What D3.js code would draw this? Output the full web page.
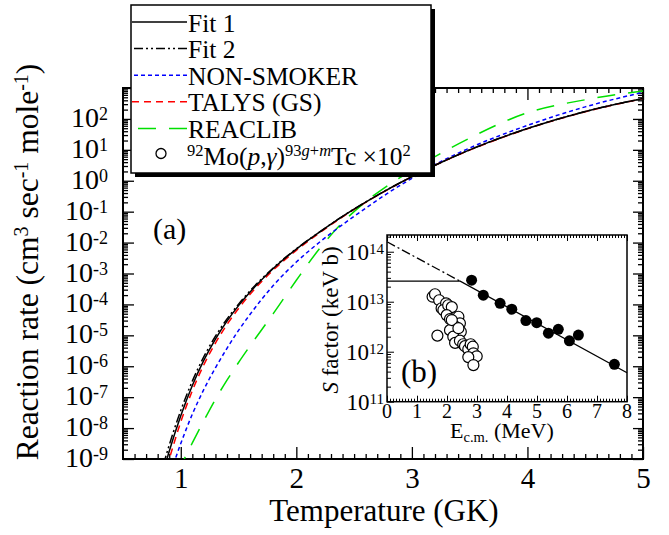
<!DOCTYPE html>
<html>
<head>
<meta charset="utf-8">
<script src="https://cdn.jsdelivr.net/npm/d3@7"></script>
<style>
  body { margin: 0; background: #fff; }
  text { font-family: "Liberation Serif", "Times New Roman", serif; fill: #000; }
</style>
</head>
<body>
<div id="chart"></div>
<script>
// ---- data ----
// main panel: temperature (GK) and log10 of the reaction rate
const tempGK = [0.85, 0.9, 1.0, 1.1, 1.2, 1.3, 1.4, 1.5, 1.6, 1.8, 2.0, 2.2, 2.4, 2.6, 2.8, 3.0, 3.2, 3.5, 4.0, 4.5, 5.0]
const fit1Log = [-9.4, -8.75, -7.6, -6.62, -5.8, -5.12, -4.54, -4.04, -3.6, -2.84, -2.21, -1.66, -1.15, -0.69, -0.26, 0.13, 0.5, 1.0, 1.69, 2.24, 2.66]
const fit2Log = [-9.18, -8.55, -7.43, -6.48, -5.69, -5.03, -4.47, -3.99, -3.56, -2.82, -2.2, -1.66, -1.15, -0.69, -0.26, 0.13, 0.5, 1.0, 1.69, 2.24, 2.66]
const nonSmokerLog = [-10.25, -9.6, -8.5, -7.55, -6.75, -6.05, -5.42, -4.84, -4.32, -3.39, -2.63, -1.99, -1.42, -0.89, -0.38, 0.08, 0.52, 1.06, 1.79, 2.39, 2.86]
const talysLog = [-9.62, -9.0, -7.8, -6.79, -5.95, -5.25, -4.65, -4.13, -3.67, -2.89, -2.25, -1.69, -1.17, -0.7, -0.27, 0.13, 0.5, 0.99, 1.68, 2.23, 2.66]
const reaclibLog = [-10.35, -9.97, -9.22, -8.48, -7.76, -7.07, -6.45, -5.88, -5.34, -4.3, -3.22, -2.2, -1.35, -0.68, -0.13, 0.33, 0.78, 1.38, 2.2, 2.62, 2.9]
const legendLabels = ["Fit 1", "Fit 2", "NON-SMOKER", "TALYS (GS)", "REACLIB"]
const xTicks = [1, 2, 3, 4, 5]
const yTickExps = [-9, -8, -7, -6, -5, -4, -3, -2, -1, 0, 1, 2]

// inset (b): S factor vs E c.m.
const newE = [2.82, 3.21, 3.77, 4.16, 4.63, 4.99, 5.38, 5.71, 6.08, 6.38, 7.58]
const newS = [2.7e13, 1.35e13, 9.3e12, 7.1e12, 4.2e12, 3.8e12, 2.35e12, 2.8e12, 1.65e12, 2.15e12, 5.6e11]
const oldE = [1.52, 1.6, 1.74, 1.82, 1.97, 1.88, 2.04, 2.16, 1.99, 2.1, 2.38, 2.43, 2.27, 2.1, 2.46, 1.68, 2.21, 2.27, 2.43, 2.54, 2.6, 2.71, 2.79, 2.86, 2.88, 2.99, 2.71, 2.88, 2.16, 2.38]
const oldS = [1.26e13, 1.41e13, 1.07e13, 7.4e12, 9.3e12, 6.8e12, 8.5e12, 7.8e12, 5.4e12, 4.5e12, 5.0e12, 3.7e12, 3.2e12, 2.7e12, 2.5e12, 2.1e12, 2.0e12, 1.5e12, 1.66e12, 1.41e12, 1.29e12, 1.12e12, 1.41e12, 1.26e12, 9.3e11, 8.1e11, 7.8e11, 5.4e11, 4.3e12, 2.95e12]
const fit1E = [0, 2.44, 8]
const fit1S = [2.57e13, 2.57e13, 3.8e11]
const fit2E = [0, 2.44]
const fit2S = [1.58e14, 2.57e13]
const insetXTicks = [0, 1, 2, 3, 4, 5, 6, 7, 8]
const insetYExps = [11, 12, 13, 14]

// ---- svg ----
const svg = d3.select("#chart").append("svg")
  .attr("width", 669)
  .attr("height", 535)

const x = d3.scaleLinear().domain([0.5, 5]).range([123, 643])
const y = d3.scaleLog().domain([1e-9, 1e3]).range([459, 88])

svg.append("defs").append("clipPath").attr("id", "plotClip")
  .append("rect")
  .attr("x", x.range()[0]).attr("y", y.range()[1])
  .attr("width", x.range()[1] - x.range()[0])
  .attr("height", y.range()[0] - y.range()[1])

// minor / major ticks
const xMinor = d3.range(6, 50).map(d => d / 10).filter(d => d % 1 != 0)
const yMinor = []
yTickExps.forEach(e => d3.range(2, 10).forEach(k => yMinor.push(k * 10 ** e)))
const yMajor = yTickExps.concat([3]).map(e => 10 ** e)

function addAxis(axis, tx, ty) {
  const g = svg.append("g").attr("transform", `translate(${tx},${ty})`).call(axis)
  g.select(".domain").remove()
  g.selectAll("line").attr("stroke-width", 1.3)
  return g
}
const [x0, x1] = x.range()
const [y0, y1] = y.range()
addAxis(d3.axisBottom(x).tickValues(xMinor).tickSize(-5).tickFormat(""), 0, y0)
addAxis(d3.axisTop(x).tickValues(xMinor).tickSize(-5).tickFormat(""), 0, y1)
addAxis(d3.axisTop(x).tickValues(xTicks).tickSize(-12).tickFormat(""), 0, y1)
const xAxisG = addAxis(d3.axisBottom(x).tickValues(xTicks).tickSize(-12).tickPadding(8).tickFormat(d3.format("d")), 0, y0)
xAxisG.selectAll("text").attr("font-size", 29)
addAxis(d3.axisLeft(y).tickValues(yMinor).tickSize(-5).tickFormat(""), x0, 0)
addAxis(d3.axisLeft(y).tickValues(yMajor).tickSize(-11).tickFormat(""), x0, 0)
addAxis(d3.axisRight(y).tickValues(yMinor).tickSize(-5).tickFormat(""), x1, 0)
addAxis(d3.axisRight(y).tickValues(yMajor).tickSize(-10).tickFormat(""), x1, 0)

svg.append("rect")
  .attr("x", x0).attr("y", y1)
  .attr("width", x1 - x0).attr("height", y0 - y1)
  .attr("fill", "none").attr("stroke", "#000").attr("stroke-width", 2)

function powText(g, exp, px, py, size, supSize, shift, anchor) {
  const t = g.append("text")
    .attr("x", px).attr("y", py)
    .attr("font-size", size)
    .attr("text-anchor", anchor)
  t.append("tspan").text("10")
  t.append("tspan").attr("font-size", supSize).attr("dy", -shift).text(String(exp).replace("\u2212", "-"))
  return t
}
yTickExps.forEach(e => powText(svg, e, 108, y(10 ** e) + 8, 28, 18, 7, "end"))

// axis titles
svg.append("text")
  .attr("x", 384).attr("y", 521)
  .attr("text-anchor", "middle")
  .attr("font-size", 31)
  .text("Temperature (GK)")

const yTitle = svg.append("text")
  .attr("transform", "translate(38,262) rotate(-90)")
  .attr("text-anchor", "middle")
  .attr("font-size", 31.5)
yTitle.append("tspan").text("Reaction rate (cm")
yTitle.append("tspan").attr("font-size", 20).attr("dy", -10).text("3")
yTitle.append("tspan").attr("dy", 10).text(" sec")
yTitle.append("tspan").attr("font-size", 20).attr("dy", -10).text("-1")
yTitle.append("tspan").attr("dy", 10).text(" mole")
yTitle.append("tspan").attr("font-size", 20).attr("dy", -10).text("-1")
yTitle.append("tspan").attr("dy", 10).text(")")

// curves
const series = [
  { vals: reaclibLog, color: "#00e000", dash: "18,13" },
  { vals: nonSmokerLog, color: "#0000ff", dash: "4,3" },
  { vals: talysLog, color: "#ff0000", dash: "7,5" },
  { vals: fit2Log, color: "#000", dash: "9,3,2,3,2,3" },
  { vals: fit1Log, color: "#000", dash: null }
]
const line = d3.line()
  .x(d => x(d[0]))
  .y(d => y(10 ** d[1]))
  .curve(d3.curveMonotoneX)

const curves = svg.append("g").attr("clip-path", "url(#plotClip)")
series.forEach(s => {
  curves.append("path")
    .datum(tempGK.map((t, i) => [t, s.vals[i]]))
    .attr("d", line)
    .attr("fill", "none")
    .attr("stroke", s.color)
    .attr("stroke-width", 1.5)
    .attr("stroke-dasharray", s.dash)
})

svg.append("text")
  .attr("x", 153).attr("y", 239)
  .attr("font-size", 30)
  .text("(a)")

// ---- legend ----
const legend = svg.append("g")
legend.append("rect")
  .attr("x", 135).attr("y", 9).attr("width", 300).attr("height", 168)
  .attr("fill", "#000")
legend.append("rect")
  .attr("x", 131).attr("y", 5).attr("width", 300).attr("height", 168)
  .attr("fill", "#fff").attr("stroke", "#000").attr("stroke-width", 1.5)

const legendStyles = [series[4], series[3], series[1], series[2], series[0]]
legendLabels.forEach((lab, i) => {
  const by = 31.5 + 26.6 * i
  legend.append("line")
    .attr("x1", 187).attr("x2", 132)
    .attr("y1", by - 9.5).attr("y2", by - 9.5)
    .attr("stroke", legendStyles[i].color)
    .attr("stroke-width", 1.5)
    .attr("stroke-dasharray", legendStyles[i].dash)
  legend.append("text")
    .attr("x", 188).attr("y", by)
    .attr("font-size", 25.5)
    .text(lab)
})
const lastY = 31.5 + 26.6 * 5
legend.append("circle")
  .attr("cx", 161).attr("cy", lastY - 11).attr("r", 5)
  .attr("fill", "#fff").attr("stroke", "#000").attr("stroke-width", 1.3)
const reac = legend.append("text").attr("x", 187).attr("y", lastY).attr("font-size", 25.5)
reac.append("tspan").attr("font-size", 16.5).attr("dy", -9).text("92")
reac.append("tspan").attr("dy", 9).text("Mo(")
reac.append("tspan").attr("font-style", "italic").text("p")
reac.append("tspan").text(",")
reac.append("tspan").attr("font-style", "italic").text("\u03b3")
reac.append("tspan").text(")")
reac.append("tspan").attr("font-size", 16.5).attr("dy", -9).text("93")
reac.append("tspan").attr("font-size", 16.5).attr("font-style", "italic").text("g")
reac.append("tspan").attr("font-size", 16.5).text("+")
reac.append("tspan").attr("font-size", 16.5).attr("font-style", "italic").text("m")
reac.append("tspan").attr("dy", 9).text("Tc \u00d710")
reac.append("tspan").attr("font-size", 16.5).attr("dy", -9).text("2")

// ---- inset (b) ----
const ix = d3.scaleLinear().domain([0, 8]).range([387, 627])
const iy = d3.scaleLog().domain([1e11, 2.16e14]).range([401.7, 235])
const [ix0, ix1] = ix.range()
const [iy0, iy1] = iy.range()

const inset = svg.append("g")
inset.append("rect")
  .attr("x", ix0).attr("y", iy1).attr("width", ix1 - ix0).attr("height", iy0 - iy1)
  .attr("fill", "#fff")

function addInsetAxis(axis, tx, ty) {
  const g = inset.append("g").attr("transform", `translate(${tx},${ty})`).call(axis)
  g.select(".domain").remove()
  g.selectAll("line").attr("stroke-width", 1)
  return g
}
const iMinorX = d3.range(1, 80).map(d => d / 10).filter((d, i) => (i + 1) % 10 != 0)
const iMinorY = []
insetYExps.forEach(e => d3.range(2, 10).forEach(k => {
  if (k * 10 ** e < 2.16e14) iMinorY.push(k * 10 ** e)
}))
const iMajorY = insetYExps.map(e => 10 ** e)
addInsetAxis(d3.axisBottom(ix).tickValues(iMinorX).tickSize(-3).tickFormat(""), 0, iy0)
addInsetAxis(d3.axisBottom(ix).tickValues(insetXTicks).tickSize(-6).tickFormat(""), 0, iy0)
addInsetAxis(d3.axisTop(ix).tickValues(iMinorX).tickSize(-3).tickFormat(""), 0, iy1)
addInsetAxis(d3.axisTop(ix).tickValues(insetXTicks).tickSize(-6).tickFormat(""), 0, iy1)
addInsetAxis(d3.axisLeft(iy).tickValues(iMinorY).tickSize(-4).tickFormat(""), ix0, 0)
addInsetAxis(d3.axisLeft(iy).tickValues(iMajorY).tickSize(-7).tickFormat(""), ix0, 0)

const sLine = d3.line().x(d => ix(d[0])).y(d => iy(d[1]))
inset.append("path")
  .datum(fit2E.map((e, i) => [e, fit2S[i]]))
  .attr("d", sLine)
  .attr("fill", "none").attr("stroke", "#000").attr("stroke-width", 1.3)
  .attr("stroke-dasharray", "9,3,2,3")
inset.append("path")
  .datum(fit1E.map((e, i) => [e, fit1S[i]]))
  .attr("d", sLine)
  .attr("fill", "none").attr("stroke", "#000").attr("stroke-width", 1.3)

inset.selectAll(".old").data(oldE.map((e, i) => [e, oldS[i]]))
  .enter().append("circle")
  .attr("cx", d => ix(d[0])).attr("cy", d => iy(d[1])).attr("r", 5.5)
  .attr("fill", "#fff").attr("stroke", "#000").attr("stroke-width", 1.2)
inset.selectAll(".new").data(newE.map((e, i) => [e, newS[i]]))
  .enter().append("circle")
  .attr("cx", d => ix(d[0])).attr("cy", d => iy(d[1])).attr("r", 5.5)
  .attr("fill", "#000")

inset.append("rect")
  .attr("x", ix0).attr("y", iy1).attr("width", ix1 - ix0).attr("height", iy0 - iy1)
  .attr("fill", "none").attr("stroke", "#000").attr("stroke-width", 1.5)

insetXTicks.forEach(v => {
  inset.append("text")
    .attr("x", ix(v)).attr("y", 418)
    .attr("text-anchor", "middle")
    .attr("font-size", 20)
    .text(v)
})
insetYExps.forEach(e => powText(inset, e, 384, iy(10 ** e) + 8, 23, 15, 6, "end"))

const eTitle = inset.append("text").attr("x", 450).attr("y", 438).attr("font-size", 22)
eTitle.append("tspan").text("E")
eTitle.append("tspan").attr("font-size", 14.5).attr("dy", 4).text("c.m.")
eTitle.append("tspan").attr("dy", -4).text(" (MeV)")

const sTitle = inset.append("text")
  .attr("transform", "translate(338,320) rotate(-90)")
  .attr("text-anchor", "middle")
  .attr("font-size", 23)
sTitle.append("tspan").attr("font-style", "italic").text("S")
sTitle.append("tspan").text(" factor (keV b)")

inset.append("text")
  .attr("x", 401).attr("y", 382)
  .attr("font-size", 31)
  .text("(b)")
</script>
</body>
</html>
